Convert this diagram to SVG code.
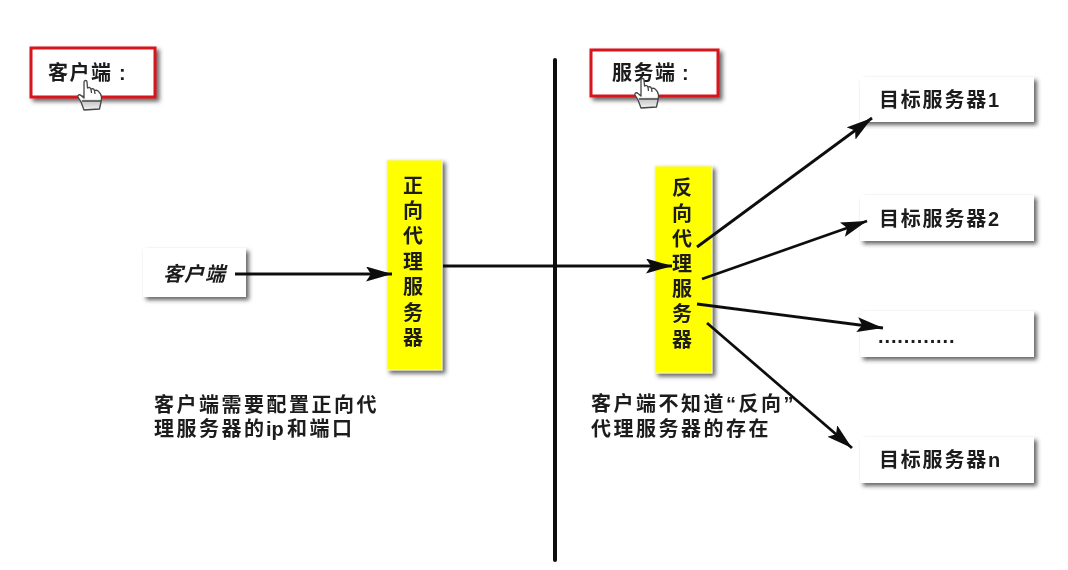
<svg xmlns="http://www.w3.org/2000/svg" width="1068" height="570" viewBox="0 0 1068 570">
<style>
text{font-family:"Liberation Sans","Noto Sans CJK SC",sans-serif;fill:#1c1c1c;font-weight:700;font-size:20px}
.box{fill:#fff;filter:url(#sh)}
.red{fill:#fff;stroke:#d7121f;stroke-width:3;filter:url(#sh)}
.yel{fill:#ffff00;stroke:#f4f4c8;stroke-width:1;filter:url(#sh)}
.c{fill:none;stroke:#111;stroke-width:2.8;marker-end:url(#ah)}
.v{text-anchor:middle}
.note{letter-spacing:2.5px}
.t{letter-spacing:1.8px}
.hand{stroke:#444;stroke-width:1.3;stroke-linejoin:round}
</style>
<defs>
<filter id="sh" x="-20%" y="-20%" width="140%" height="150%"><feDropShadow dx="3" dy="3" stdDeviation="2" flood-color="#333" flood-opacity=".75"/></filter>
<filter id="soft" filterUnits="userSpaceOnUse" x="0" y="0" width="1068" height="570"><feGaussianBlur stdDeviation=".7"/></filter>
<linearGradient id="hg" x1="0" y1="0" x2="0" y2="1"><stop offset=".6" stop-color="#fff"/><stop offset=".75" stop-color="#ccc"/><stop offset="1" stop-color="#f4f4f4"/></linearGradient>
<marker id="ah" markerUnits="userSpaceOnUse" markerWidth="28" markerHeight="16" refX="26" refY="7.5" orient="auto"><path d="M0,0 L26,7.5 L0,15 L5,7.5 Z" fill="#0a0a0a"/></marker>
<g id="hand"><path class="hand" fill="url(#hg)" d="M6,2 C6,0 9,0 9,2 L9.5,8 C11,7 12.5,7.5 13,9 C14.5,8.5 16,9 16.5,10.5 C18,10 20,10.5 21,12 C23,14 24,18 23,22 L21.5,29 L6,30 L3,22 L0,17 C-.5,15 1.5,14 3,15.5 L6,18 Z"/><path class="hand" fill="none" d="M13,9 L13.5,13 M16.5,10.5 L17,14 M4,21 L23,21"/></g>
</defs>
<rect width="1068" height="570" fill="#fff"/>
<g filter="url(#soft)">
<g id="client-label"><rect class="red" x="31" y="48" width="124" height="49"/><text x="48" y="80" letter-spacing="1.5">客户端</text><text x="119" y="80">:</text><use href="#hand" x="78" y="80"/></g>
<g id="server-label"><rect class="red" x="591" y="50" width="127" height="46"/><text x="612" y="80" letter-spacing="1.5">服务端</text><text x="682" y="80">:</text><use href="#hand" x="635" y="78"/></g>
<g id="client"><rect class="box" x="143" y="248" width="103" height="49"/><text x="163" y="281" font-style="italic" letter-spacing="1">客户端</text></g>
<g id="forward-proxy"><rect class="yel" x="387" y="160" width="55" height="210"/>
<text class="v" x="413" y="193">正</text><text class="v" x="413" y="218">向</text><text class="v" x="413" y="243">代</text><text class="v" x="413" y="269">理</text><text class="v" x="413" y="294">服</text><text class="v" x="413" y="320">务</text><text class="v" x="413" y="345">器</text></g>
<g id="reverse-proxy"><rect class="yel" x="655" y="166" width="57" height="207"/>
<text class="v" x="682" y="195">反</text><text class="v" x="682" y="221">向</text><text class="v" x="682" y="246">代</text><text class="v" x="682" y="271">理</text><text class="v" x="682" y="296">服</text><text class="v" x="682" y="321">务</text><text class="v" x="682" y="347">器</text></g>
<g id="target-1"><rect class="box" x="860" y="77" width="174" height="45"/><text class="t" x="879" y="107">目标服务器1</text></g>
<g id="target-2"><rect class="box" x="860" y="195" width="174" height="46"/><text class="t" x="879" y="226">目标服务器2</text></g>
<g id="target-3"><rect class="box" x="860" y="311" width="174" height="46"/><text x="878" y="343" letter-spacing=".9">............</text></g>
<g id="target-n"><rect class="box" x="860" y="437" width="174" height="46"/><text class="t" x="879" y="467">目标服务器n</text></g>
<g id="note-left"><text class="note" x="154" y="412">客户端需要配置正向代</text><text class="note" x="154" y="436">理服务器的<tspan x="266" letter-spacing="0">ip</tspan><tspan x="287">和端口</tspan></text></g>
<g id="note-right"><text class="note" x="591" y="411">客户端不知道“反向”</text><text class="note" x="591" y="436">代理服务器的存在</text></g>
<g id="connectors">
<path d="M555,60 V560" stroke="#111" stroke-width="4" stroke-linecap="round" fill="none"/>
<path class="c" d="M235,274 H392"/>
<path class="c" d="M443,266 H672"/>
<path class="c" d="M697,247 L872,118"/>
<path class="c" d="M702,279 L867,221"/>
<path class="c" d="M697,304 L883,328"/>
<path class="c" d="M707,323 L852,448"/>
</g>
</g>
</svg>
